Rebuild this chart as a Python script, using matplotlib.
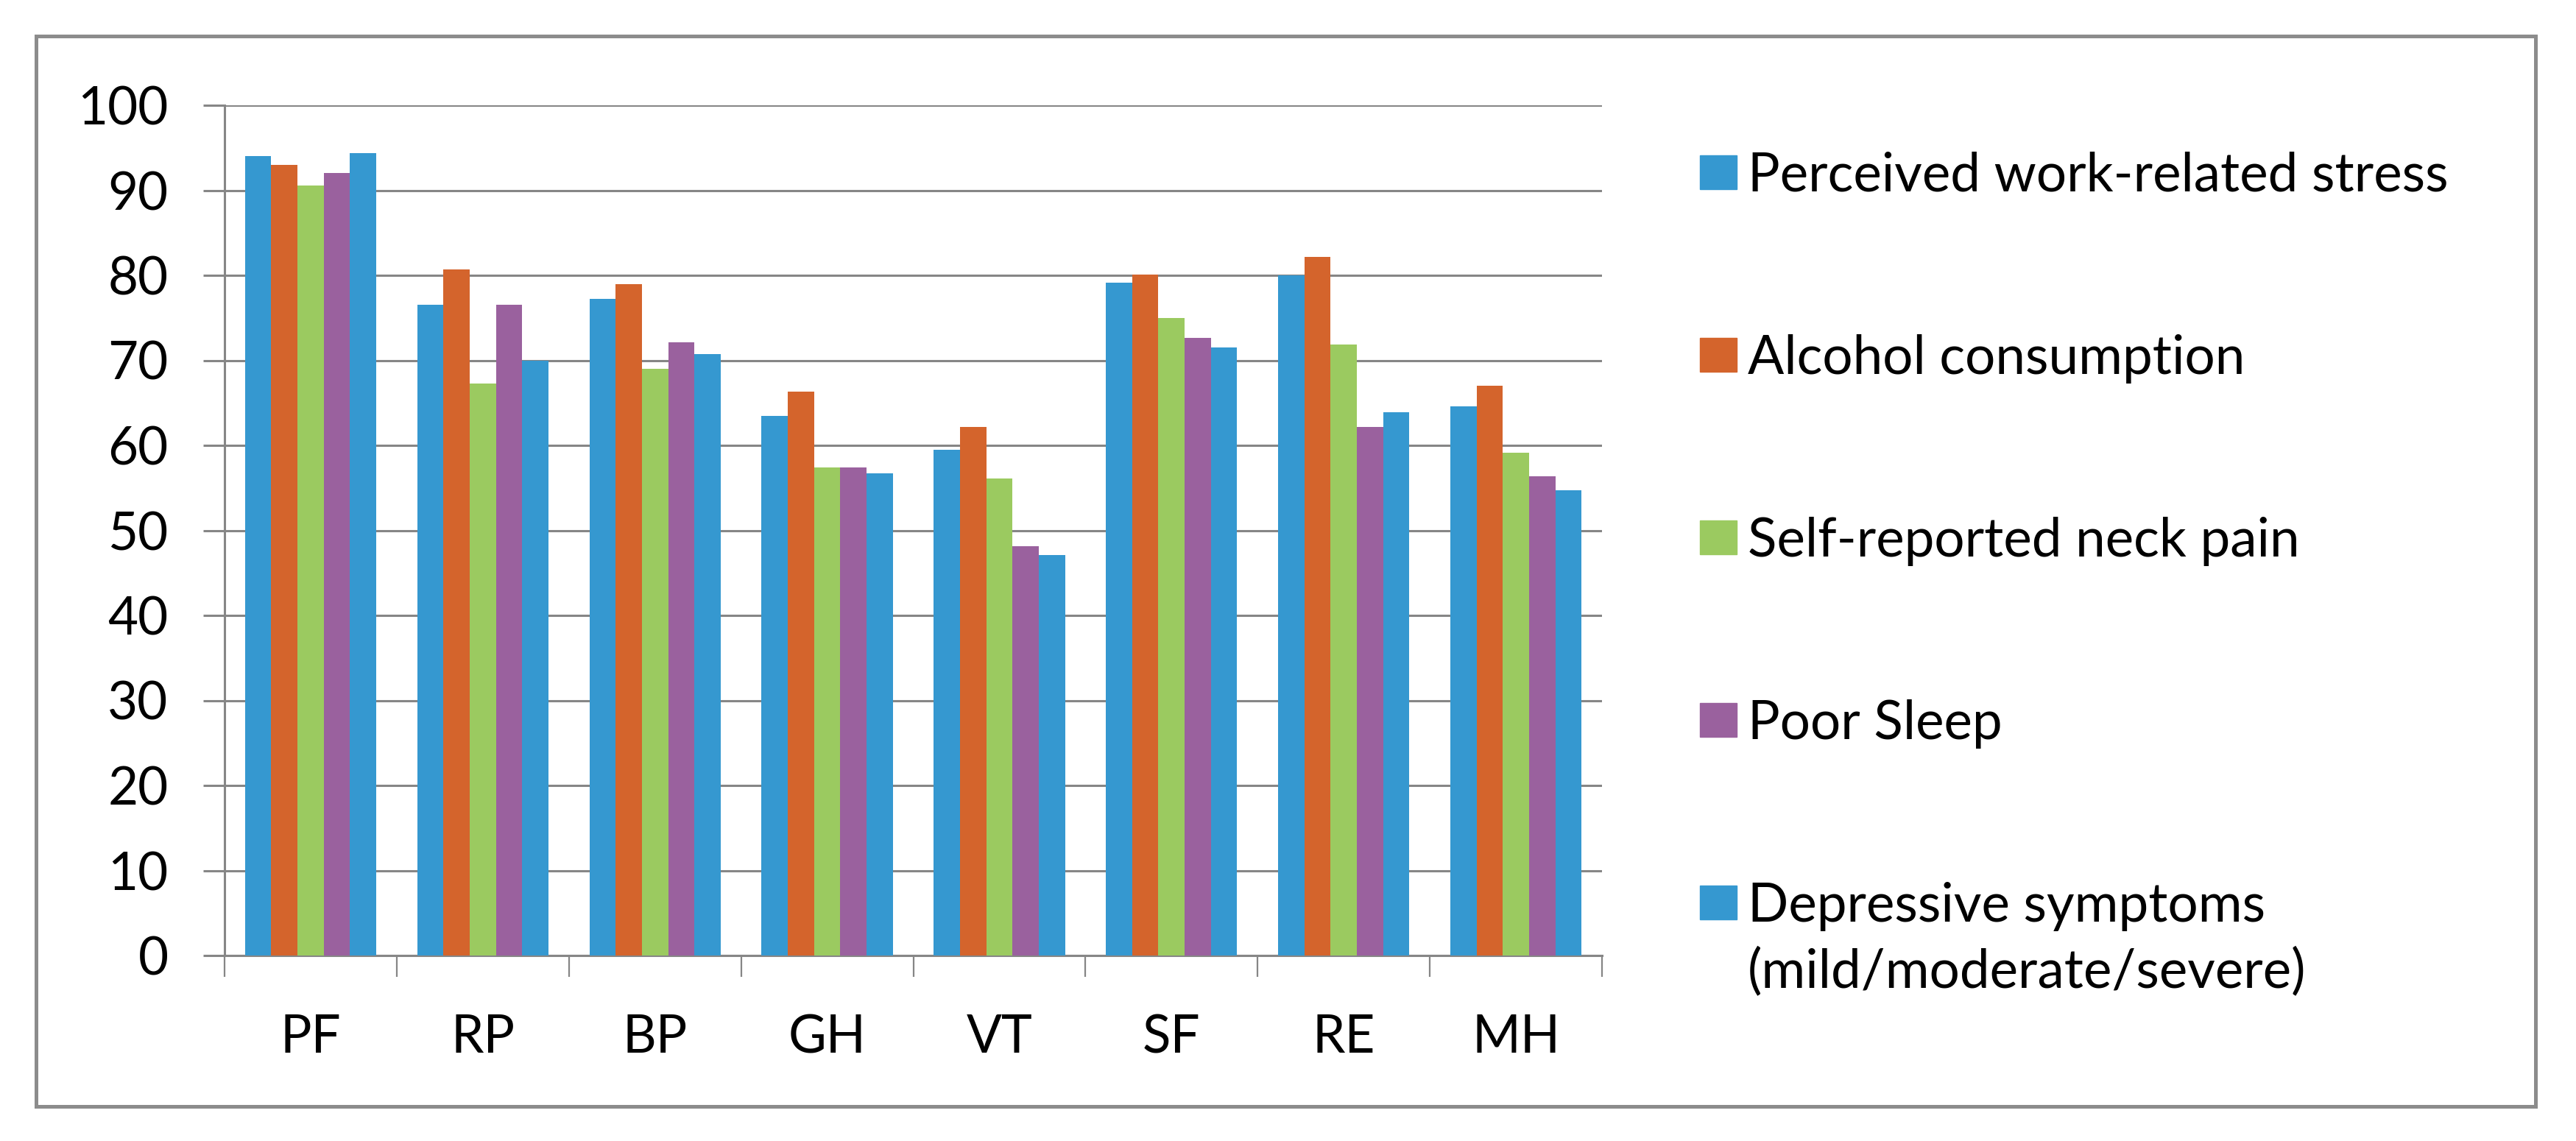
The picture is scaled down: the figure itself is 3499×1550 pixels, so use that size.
import matplotlib.pyplot as plt
from matplotlib.patches import Rectangle

# Data
categories = ["PF", "RP", "BP", "GH", "VT", "SF", "RE", "MH"]
series_names = [
    "Perceived work-related stress",
    "Alcohol consumption",
    "Self-reported neck pain",
    "Poor Sleep",
    "Depressive symptoms\n(mild/moderate/severe)",
]
stress = [94.0, 76.5, 77.2, 63.5, 59.5, 79.1, 80.0, 64.6]
alcohol = [93.0, 80.7, 79.0, 66.3, 62.2, 80.1, 82.2, 67.0]
neck_pain = [90.6, 67.3, 69.0, 57.4, 56.1, 75.0, 71.9, 59.1]
poor_sleep = [92.0, 76.5, 72.1, 57.4, 48.1, 72.6, 62.2, 56.4]
depressive = [94.4, 70.0, 70.7, 56.7, 47.1, 71.5, 63.9, 54.7]
series = [stress, alcohol, neck_pain, poor_sleep, depressive]
colors = ["#3598D0", "#D4642C", "#9BCA60", "#9A619E", "#3598D0"]

plt.rcParams['font.family'] = ['Lato', 'DejaVu Sans']

W, H = 3499, 1550
fig = plt.figure(figsize=(W / 100, H / 100), dpi=100)
ax = fig.add_axes([305 / W, 1 - 1298 / H, (2176 - 305) / W, (1298 - 143) / H])

grid_col = "#868686"
bar_w = 0.1525
x = list(range(len(categories)))
for i, (vals, col) in enumerate(zip(series, colors)):
    ax.bar([xi + (i - 2) * bar_w for xi in x], vals, width=bar_w, color=col, zorder=3)

ax.set_xlim(-0.5, len(categories) - 0.5)
ax.set_ylim(0, 100)
ax.set_yticks(range(0, 101, 10))
ax.yaxis.grid(True, color=grid_col, linewidth=2.2, zorder=0)
ax.set_axisbelow(True)

# category boundary ticks
ax.set_xticks(x)
ax.set_xticklabels(categories, fontsize=51)
ax.set_xticks([xi - 0.5 for xi in range(len(categories) + 1)], minor=True)
ax.tick_params(axis='x', which='major', length=0, pad=57)
ax.tick_params(axis='x', which='minor', length=21, width=1.6, color=grid_col, direction='out')
ax.tick_params(axis='y', length=21, width=2.2, color=grid_col, pad=34, labelsize=51)

for s in ["top", "right"]:
    ax.spines[s].set_visible(False)
for s in ["left", "bottom"]:
    ax.spines[s].set_color(grid_col)
    ax.spines[s].set_linewidth(2.2)

# legend, drawn by hand to keep the Excel-like spacing
row_y = 234
for name, col in zip(series_names, colors):
    fig.add_artist(Rectangle((2309 / W, 1 - (row_y + 23) / H), 50 / W, 46 / H,
                             transform=fig.transFigure, color=col))
    fig.text(2374 / W, 1 - (row_y - 28) / H, name, fontsize=52.5, va='top', ha='left',
             linespacing=1.4)
    row_y += 248

# outer frame
fig.add_artist(Rectangle((49 / W, 1 - 1503 / H), (3444 - 49) / W, (1503 - 49) / H,
                         transform=fig.transFigure, fill=False, edgecolor="#8C8C8C",
                         linewidth=3.6))

fig.savefig("out.png", dpi=100)
